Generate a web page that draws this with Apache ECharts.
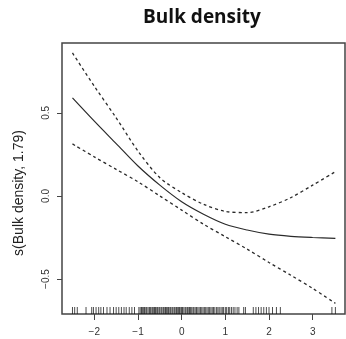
<!DOCTYPE html>
<html>
<head>
<meta charset="utf-8">
<script src="https://cdn.jsdelivr.net/npm/echarts@6/dist/echarts.min.js"></script>
<style>html,body{margin:0;padding:0;background:#fff;}#c{width:346px;height:339px;}</style>
</head>
<body>
<div id="c"></div>
<script>
var xs = [-2.5,-2.0,-1.5,-1.0,-0.5,0,0.5,1.0,1.5,2.0,2.5,3.0,3.52];
var fit = [0.59,0.45,0.315,0.18,0.065,-0.035,-0.11,-0.17,-0.205,-0.23,-0.243,-0.25,-0.255];
var upper = [0.86,0.66,0.47,0.27,0.11,0.02,-0.05,-0.093,-0.10,-0.065,-0.01,0.065,0.146];
var lower = [0.313,0.235,0.16,0.085,0.0,-0.085,-0.17,-0.245,-0.32,-0.40,-0.477,-0.556,-0.646];
var rug = [-2.50,-2.45,-2.39,-2.19,-2.06,-2.02,-1.96,-1.90,-1.85,-1.79,-1.71,-1.64,-1.56,-1.50,-1.44,-1.38,-1.32,-1.27,-1.20,-1.14,-1.08,
-0.98,-0.95,-0.92,-0.9,-0.87,-0.85,-0.82,-0.8,-0.77,-0.74,-0.72,-0.7,-0.67,-0.64,-0.62,-0.6,-0.57,-0.55,-0.52,-0.5,-0.47,-0.45,-0.42,-0.4,-0.37,-0.35,-0.32,-0.3,-0.27,-0.25,-0.22,-0.2,-0.17,-0.15,-0.12,-0.1,-0.07,-0.05,-0.02,0,0.02,0.05,0.08,0.1,0.13,0.15,0.18,0.2,0.23,0.26,0.28,0.31,0.34,0.37,0.4,0.43,0.46,0.49,0.52,0.55,0.58,0.61,0.64,0.67,0.7,0.73,0.76,0.8,0.83,0.86,0.9,0.93,0.96,1.0,1.03,1.07,1.1,1.14,1.18,1.22,1.27,1.31,
1.42,1.46,1.64,1.70,1.76,1.82,1.88,1.94,2.00,2.08,2.17,2.26,3.44,3.52];
var xTicks = [-2,-1,0,1,2,3];
var yTicks = [-0.5,0,0.5];
var xMin = -2.74, xMax = 3.74, yMin = -0.71, yMax = 0.92;

function pairs(a, b){ return a.map(function(v,i){ return [v, b[i]]; }); }
function fmt(s){ return String(s).replace('-', '\u2212'); }

var chart = echarts.init(document.getElementById('c'), null, {renderer:'canvas'});
var lineCol = '#2a2a2a';
chart.setOption({
  animation: false,
  title: {
    text: 'Bulk density', left: 197, top: 3, textAlign: 'center',
    textStyle: {fontFamily: 'Open Sans', fontWeight: 'bold', fontSize: 19, color: '#111'}
  },
  grid: {left: 62, top: 43, right: 1, bottom: 25, show: true, borderColor: '#444', borderWidth: 1.5, backgroundColor: 'transparent'},
  xAxis: {
    type: 'value', min: xMin, max: xMax,
    splitLine: {show: false}, axisLine: {show: false, onZero: false},
    axisTick: {show: true, length: 6, customValues: xTicks, lineStyle: {color: '#444'}},
    axisLabel: {customValues: xTicks, margin: 13, fontFamily: 'Liberation Sans', fontSize: 10, color: '#333',
      formatter: function(v){ return fmt(v); }}
  },
  yAxis: {
    type: 'value', min: yMin, max: yMax,
    splitLine: {show: false}, axisLine: {show: false, onZero: false},
    axisTick: {show: true, length: 5, customValues: yTicks, lineStyle: {color: '#444'}},
    axisLabel: {customValues: yTicks, margin: 11, rotate: 90, fontFamily: 'Liberation Sans', fontSize: 10, color: '#333',
      formatter: function(v){ return fmt(v.toFixed(1)); }}
  },
  graphic: [{
    type: 'text', x: 19, y: 193, rotation: Math.PI/2,
    style: {text: 's(Bulk density, 1.79)', fontFamily: 'Liberation Sans', fontSize: 14, fill: '#222', align: 'center', verticalAlign: 'middle'}
  }],
  series: [
    {type: 'line', data: pairs(xs, fit), smooth: 0.3, showSymbol: false, lineStyle: {color: lineCol, width: 1.2}},
    {type: 'line', data: pairs(xs, upper), smooth: 0.3, showSymbol: false, lineStyle: {color: lineCol, width: 1.3, type: [3,3]}},
    {type: 'line', data: pairs(xs, lower), smooth: 0.3, showSymbol: false, lineStyle: {color: lineCol, width: 1.3, type: [3,3]}},
    {type: 'scatter', data: rug.map(function(v){ return [v, yMin]; }), symbol: 'rect', symbolSize: [1, 7], symbolOffset: [0, -3.5],
      itemStyle: {color: '#111', opacity: 0.75}, clip: false, silent: true}
  ]
});
</script>
</body>
</html>
